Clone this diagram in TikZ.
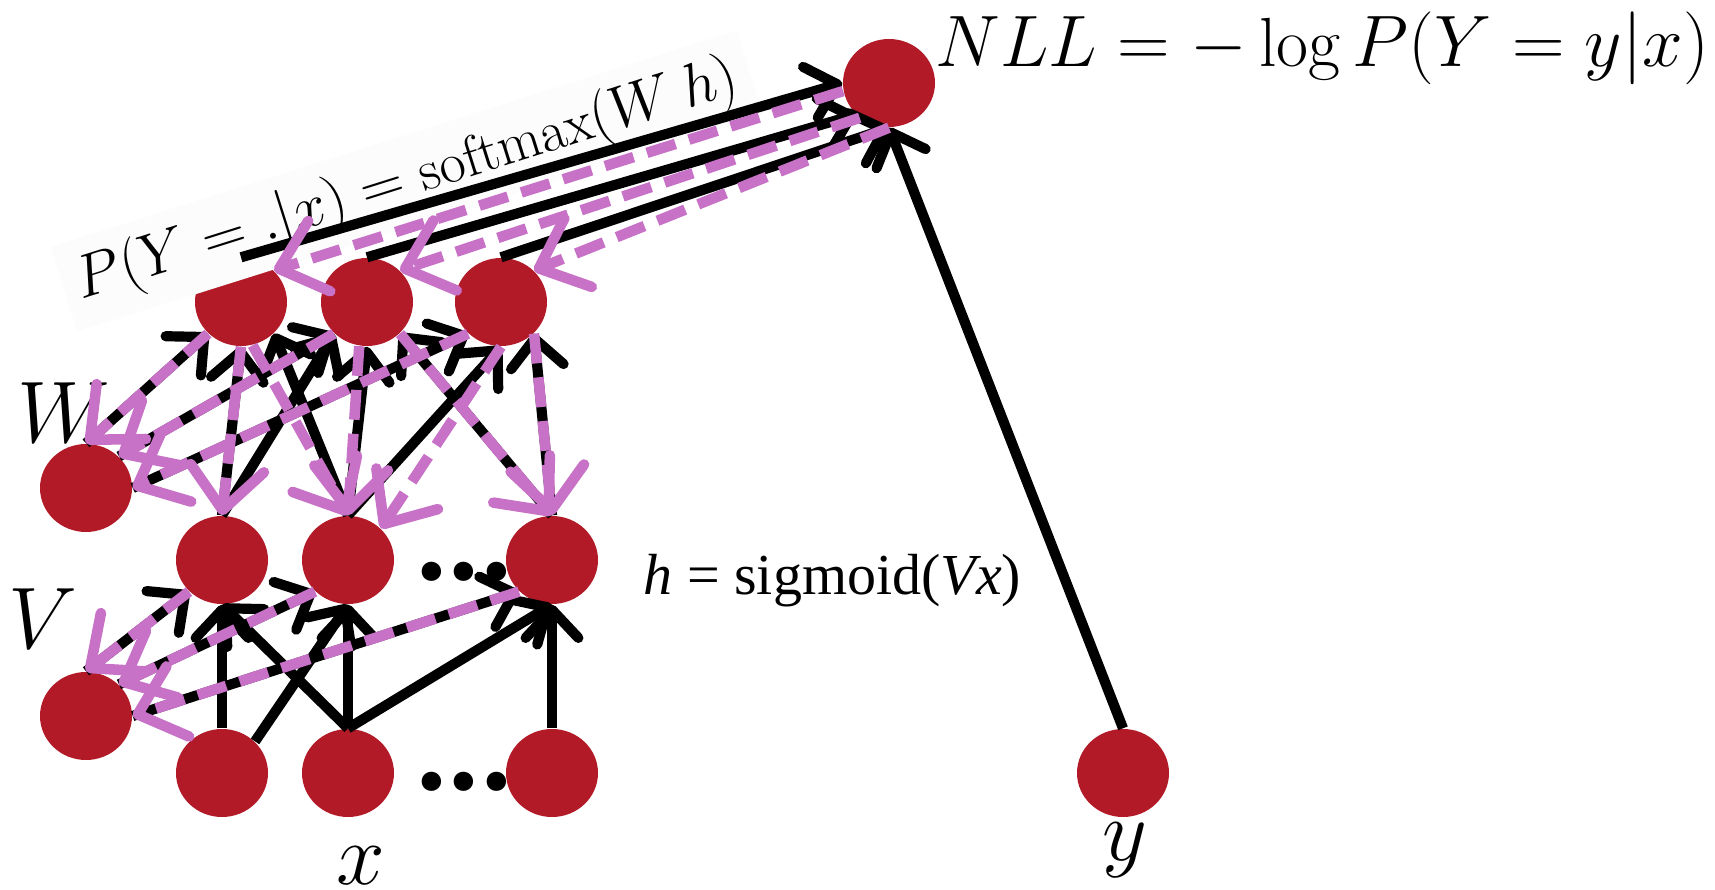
\documentclass[tikz,border=0pt]{standalone}
\usepackage{fontspec}
\usetikzlibrary{shapes.geometric,arrows.meta}
\newfontfamily\timesfont{Liberation Serif}
\newfontfamily\dotsfont{Carlito}
\definecolor{unitred}{RGB}{178,26,40}
\definecolor{gradpurple}{RGB}{199,113,199}
\tikzset{
  unit/.style={ellipse,fill=unitred,minimum width=0.92cm,minimum height=0.88cm,inner sep=0pt},
  fwd/.style={black,line width=2.9pt,-{Straight Barb[length=8pt,width=15pt,round]}},
  bwd/.style={gradpurple,line width=3pt,dash pattern=on 8.5pt off 4pt,-{Straight Barb[length=12pt,width=21pt,round]}},
}
\begin{document}
\begin{tikzpicture}
\useasboundingbox (0,0) rectangle (17.150,-8.900);
\node[unit] (out) at (8.890,-0.830) {};
\node[unit] (s1) at (2.410,-3.020) {};
\node[unit] (s2) at (3.670,-3.020) {};
\node[unit] (s3) at (5.010,-3.020) {};
\node[unit] (wpar) at (0.860,-4.880) {};
\node[unit] (h1) at (2.220,-5.600) {};
\node[unit] (h2) at (3.480,-5.600) {};
\node[unit] (h3) at (5.520,-5.600) {};
\node[unit] (vpar) at (0.860,-7.160) {};
\node[unit] (x1) at (2.220,-7.730) {};
\node[unit] (x2) at (3.480,-7.730) {};
\node[unit] (x3) at (5.520,-7.730) {};
\node[unit] (ytrue) at (11.230,-7.730) {};
% labels
\node[anchor=base west,inner sep=0pt,font=\fontsize{19.8}{24}\selectfont] (nll) at (9.350,-0.670) {$NLL=-\log P(Y=y|x)$};
\node[rotate=17.5,fill=black!1,inner sep=4pt,font=\fontsize{16.2}{19}\selectfont] (smax) at (4.070,-1.810) {$P(Y=.|x)=\mathrm{softmax}(W\,h)$};
\node[anchor=base west,inner sep=0pt,font=\timesfont\fontsize{16.5}{20}\selectfont] (sigm) at (6.430,-5.950) {\textit{h} = sigmoid(\textit{Vx})};
\node[font=\fontsize{25}{30}\selectfont] (wlab) at (0.635,-4.130) {$W$};
\node[font=\fontsize{25}{30}\selectfont] (vlab) at (0.425,-6.190) {$V$};
\node[anchor=base,inner sep=0pt,font=\fontsize{31}{34}\selectfont] (xlab) at (3.610,-8.840) {$x$};
\node[anchor=base,inner sep=0pt,font=\fontsize{35}{38}\selectfont] (ylab) at (11.250,-8.600) {$y$};
\node[anchor=base,inner sep=0pt,font=\dotsfont\bfseries\fontsize{37}{40}\selectfont] (hdots) at (4.640,-5.800) {.\kern-0.6pt.\kern-0.6pt.};
\node[anchor=base,inner sep=0pt,font=\dotsfont\bfseries\fontsize{37}{40}\selectfont] (xdots) at (4.640,-7.900) {.\kern-0.6pt.\kern-0.6pt.};
% forward
\draw[fwd] (s1.north) -- (out.west);
\draw[fwd] (s2.north) -- (out.south west);
\draw[fwd] (s3.north) -- (out.south);
\draw[fwd] (ytrue.north) -- (out.south);
\draw[fwd] (wpar.north) -- (s1.south west);
\draw[fwd] (wpar.north east) -- (s2.south west);
\draw[fwd] (wpar.east) -- (s3.south west);
\draw[fwd] (h1.north) -- (s1.south);
\draw[fwd] (h1.north) -- (s2.south west);
\draw[fwd] (h2.north) -- (s1.south east);
\draw[fwd] (h2.north) -- (s2.south);
\draw[fwd] (h2.north) -- (s3.south);
\draw[fwd] (h3.north) -- (s2.south east);
\draw[fwd] (h3.north) -- (s3.south east);
\draw[fwd] (vpar.north) -- (h1.south west);
\draw[fwd] (vpar.north east) -- (h2.south west);
\draw[fwd] (vpar.east) -- (h3.south west);
\draw[fwd] (x1.north) -- (h1.south);
\draw[fwd] (x1.north east) -- (h2.south);
\draw[fwd] (x2.north) -- (h1.south);
\draw[fwd] (x2.north) -- (h2.south);
\draw[fwd] (x2.north) -- (h3.south);
\draw[fwd] (x3.north) -- (h3.south);
% backward
\draw[bwd] (out.190) -- (s1.north east);
\draw[bwd] (out.230) -- (s2.north east);
\draw[bwd] (out.south) -- (s3.north east);
\draw[bwd] (s1.south west) -- (wpar.north);
\draw[bwd] (s2.south west) -- (wpar.north east);
\draw[bwd] (s3.south west) -- (wpar.east);
\draw[bwd] (s1.south) -- (h1.north);
\draw[bwd] (s1.-75) -- (h2.north);
\draw[bwd] (s2.-100) -- (h2.north);
\draw[bwd] (s2.south east) -- (h3.north);
\draw[bwd] (s3.south) -- (h2.north east);
\draw[bwd] (s3.south east) -- (h3.north);
\draw[bwd] (h1.south west) -- (vpar.north);
\draw[bwd] (h2.south west) -- (vpar.north east);
\draw[bwd] (h3.south west) -- (vpar.east);
\end{tikzpicture}
\end{document}
